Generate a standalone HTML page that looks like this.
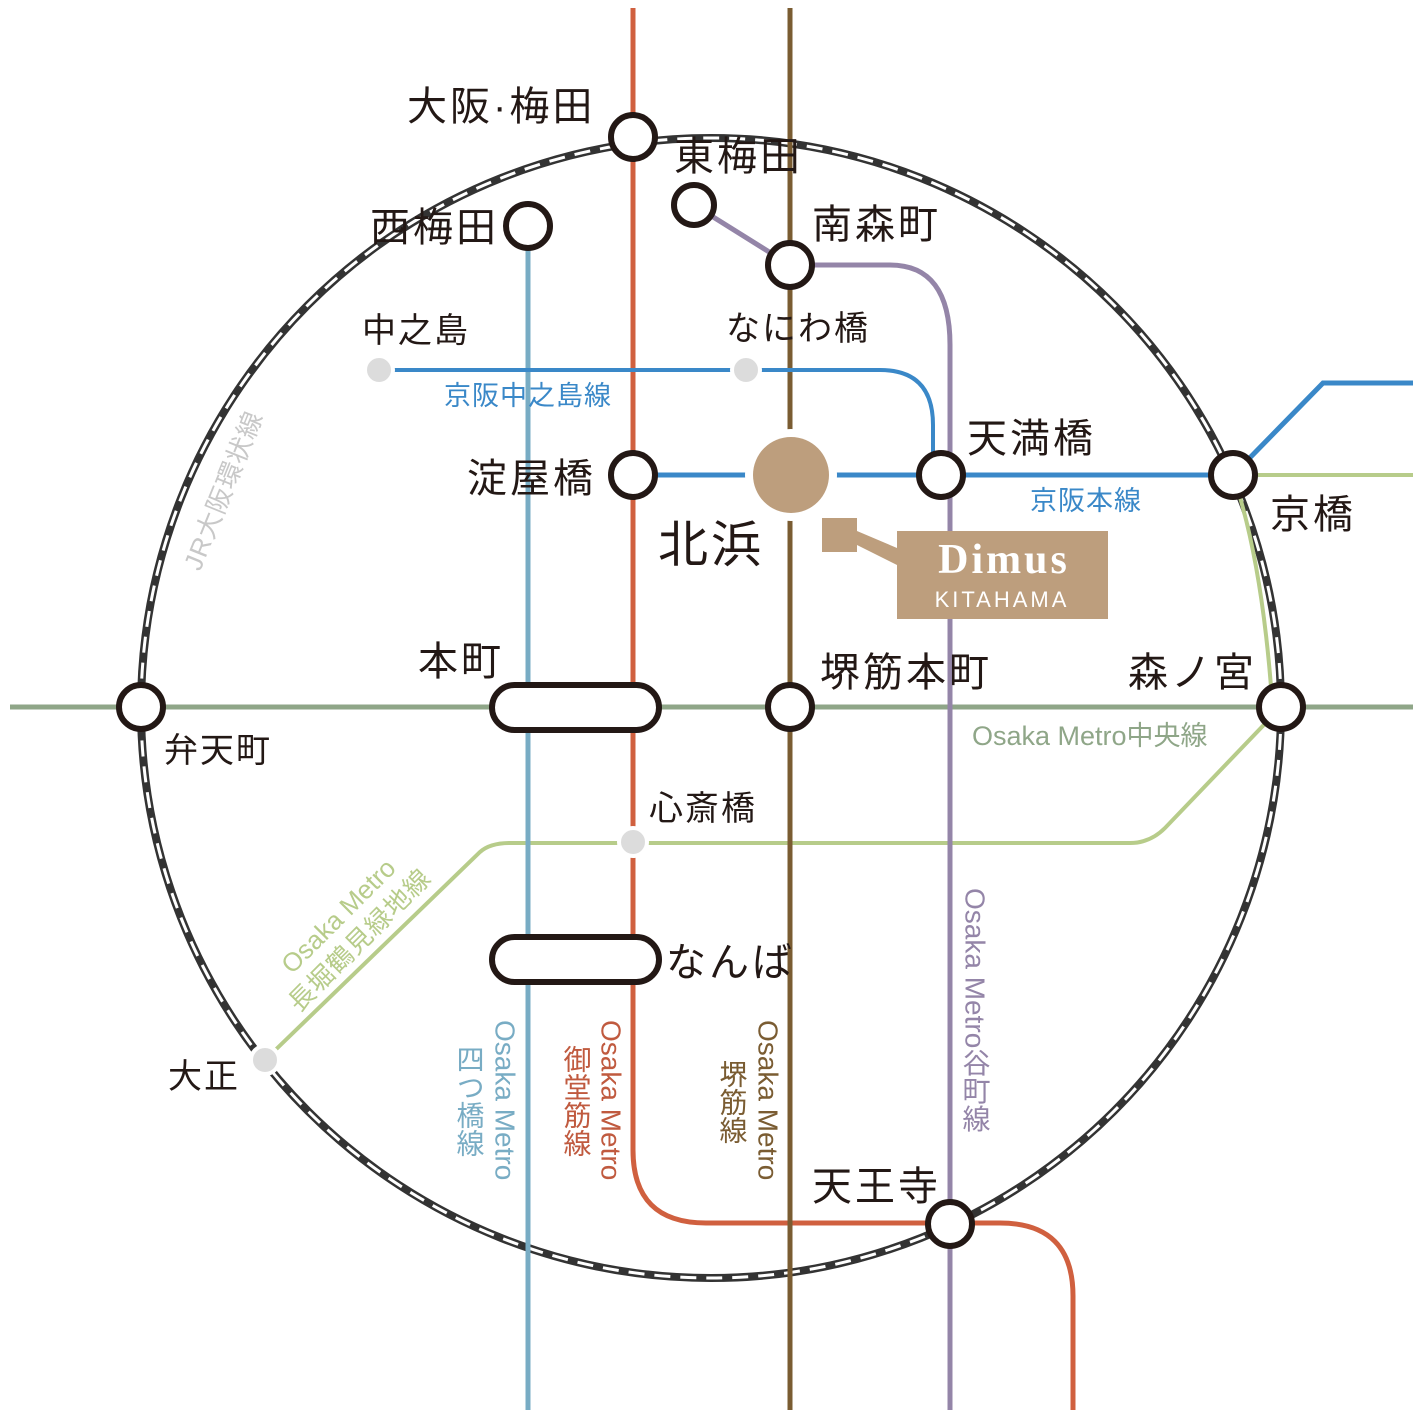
<!DOCTYPE html>
<html><head><meta charset="utf-8"><style>
html,body{margin:0;padding:0;background:#fff}
svg{display:block}
text{font-family:"Liberation Sans","Noto Sans CJK JP",sans-serif}
</style></head><body>
<svg width="1420" height="1420" viewBox="0 0 1420 1420" xmlns="http://www.w3.org/2000/svg">
<!-- ring -->
<circle cx="711" cy="708" r="570" fill="none" stroke="#333" stroke-width="8"/>
<circle cx="711" cy="708" r="570" fill="none" stroke="#fff" stroke-width="3" stroke-dasharray="16 10"/>
<!-- Chuo line -->
<line x1="10" y1="707" x2="1413" y2="707" stroke="#8fa688" stroke-width="5"/>
<!-- Nagahori -->
<path d="M265 1060 L480 852 Q490 843 510 843 L1130 843 Q1150 843 1165 828 L1281 707" fill="none" stroke="#b7cc8a" stroke-width="4"/>
<path d="M1233 475 Q1262 560 1272 700" fill="none" stroke="#b7cc8a" stroke-width="4"/>
<line x1="1255" y1="475" x2="1413" y2="475" stroke="#b7cc8a" stroke-width="4"/>
<!-- Yotsubashi -->
<line x1="528" y1="225" x2="528" y2="1410" stroke="#78acc4" stroke-width="5"/>
<!-- Midosuji -->
<path d="M633 8 L633 1150 Q633 1223 706 1223 L1000 1223 Q1073 1223 1073 1296 L1073 1410" fill="none" stroke="#d0603f" stroke-width="5"/>
<!-- Sakaisuji -->
<line x1="790" y1="8" x2="790" y2="1410" stroke="#7a5c32" stroke-width="5"/>
<!-- Tanimachi -->
<path d="M694 205 L790 265 L890 265 Q950 265 950 345 L950 1410" fill="none" stroke="#9485a8" stroke-width="5"/>
<!-- Keihan Nakanoshima -->
<path d="M379 370 L880 370 Q933 370 933 425 L933 470" fill="none" stroke="#3a88c8" stroke-width="4"/>
<!-- Keihan main -->
<path d="M633 475 L1233 475 L1323 383 L1413 383" fill="none" stroke="#3a88c8" stroke-width="5"/>
<!-- Kitahama halo -->
<circle cx="791" cy="475" r="46" fill="#fff"/>
<circle cx="791" cy="475" r="38" fill="#bd9e7d"/>
<!-- gray dots -->
<g fill="#dcdcdc" stroke="#fff" stroke-width="4">
<circle cx="379" cy="370" r="14"/><circle cx="746" cy="370" r="14"/><circle cx="633" cy="842" r="14"/><circle cx="265" cy="1060" r="14"/>
</g>
<!-- stations -->
<g fill="#fff" stroke="#231815" stroke-width="6">
<circle cx="633" cy="137" r="22"/>
<circle cx="694" cy="205" r="20"/>
<circle cx="528" cy="226" r="22"/>
<circle cx="790" cy="265" r="22"/>
<circle cx="633" cy="475" r="22"/>
<circle cx="941" cy="475" r="22"/>
<circle cx="1233" cy="475" r="22"/>
<circle cx="141" cy="707" r="22"/>
<circle cx="790" cy="707" r="22"/>
<circle cx="1281" cy="707" r="22"/>
<circle cx="950" cy="1224" r="22"/>
<rect x="492" y="685" width="167" height="45" rx="22.5"/>
<rect x="492" y="937" width="167" height="45" rx="22.5"/>
</g>
<!-- Dimus -->
<rect x="822" y="518" width="35" height="34" fill="#bd9e7d"/>
<polygon points="857,531 897,548 897,565 857,545" fill="#bd9e7d"/>
<rect x="897" y="531" width="211" height="88" fill="#bd9e7d"/>
<text x="1004" y="573" text-anchor="middle" font-size="42" font-weight="bold" fill="#fff" style="font-family:'Liberation Serif',serif;letter-spacing:3px">Dimus</text>
<text x="1002" y="607" text-anchor="middle" font-size="22" fill="#fff" style="letter-spacing:3px">KITAHAMA</text>
<!-- station labels -->
<g fill="#231815" font-size="40" style="letter-spacing:3px">
<text x="407" y="120">大阪·梅田</text>
<text x="674" y="170">東梅田</text>
<text x="812" y="238">南森町</text>
<text x="370" y="241">西梅田</text>
<text x="467" y="492">淀屋橋</text>
<text x="967" y="452">天満橋</text>
<text x="1270" y="528">京橋</text>
<text x="658" y="562" font-size="50">北浜</text>
<text x="418" y="675">本町</text>
<text x="820" y="686">堺筋本町</text>
<text x="1128" y="686">森ノ宮</text>
<text x="666" y="976">なんば</text>
<text x="812" y="1200">天王寺</text>
</g>
<g fill="#231815" font-size="34" style="letter-spacing:2px">
<text x="362" y="342">中之島</text>
<text x="726" y="340">なにわ橋</text>
<text x="164" y="762">弁天町</text>
<text x="649" y="820">心斎橋</text>
<text x="168" y="1088">大正</text>
</g>
<!-- line labels -->
<text x="444" y="405" font-size="27" fill="#3a88c8" style="letter-spacing:1px">京阪中之島線</text>
<text x="1030" y="510" font-size="27" fill="#3a88c8" style="letter-spacing:1px">京阪本線</text>
<text x="972" y="745" font-size="27" fill="#8fa688">Osaka Metro中央線</text>
<text transform="translate(200,572) rotate(-68)" font-size="26" fill="#c8c8c8" style="letter-spacing:1px">JR大阪環状線</text>
<g transform="translate(292,975) rotate(-45)" fill="#b7cc8a" font-size="26">
<text x="0" y="0">Osaka Metro</text>
<text x="-22" y="32" style="letter-spacing:1px">長堀鶴見緑地線</text>
</g>
<g font-size="28" style="writing-mode:vertical-rl">
<text x="505" y="1020" fill="#78acc4">Osaka Metro</text>
<text x="469" y="1045" fill="#78acc4">四つ橋線</text>
<text x="611" y="1020" fill="#c05a3f">Osaka Metro</text>
<text x="576" y="1045" fill="#c05a3f">御堂筋線</text>
<text x="768" y="1020" fill="#7a5c32">Osaka Metro</text>
<text x="732" y="1060" fill="#7a5c32">堺筋線</text>
<text x="975" y="888" fill="#9485a8">Osaka Metro谷町線</text>
</g>
</svg>
</body></html>
